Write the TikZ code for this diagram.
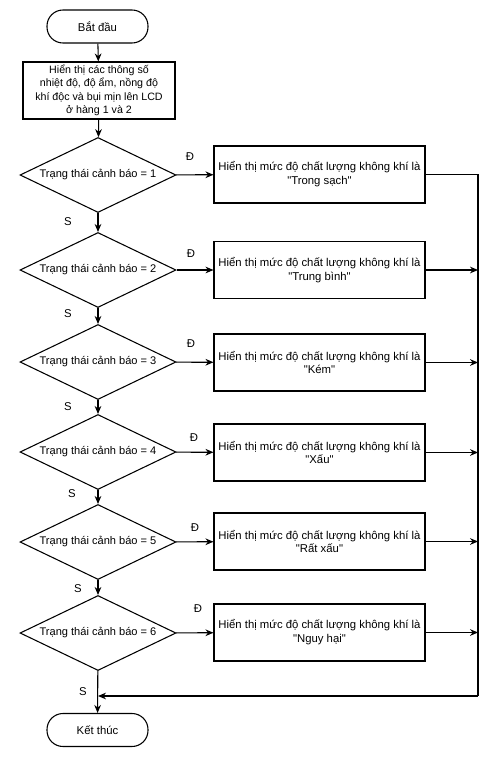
\documentclass[tikz,border=0pt]{standalone}
\usepackage{fontspec}
\setmainfont{Liberation Sans}
\usetikzlibrary{shapes.geometric,arrows.meta}

\newcommand{\qt}[1]{\textquotedbl#1\textquotedbl}

\tikzset{
  term/.style={draw,thick,rounded corners=12pt,minimum width=101*0.75pt,minimum height=33*0.75pt},
  proc/.style={draw,thick,align=center,inner sep=0pt},
  dec/.style={draw,thick,diamond,aspect=2.08,inner sep=0pt,minimum width=156*0.75pt,minimum height=75*0.75pt,
    font=\fontsize{8.3}{10}\selectfont},
  arr/.style={thick,-{Stealth[length=6pt,width=5pt]}},
  lbl/.style={inner sep=0pt}
}

\begin{document}
\begin{tikzpicture}[x=0.75pt,y=-0.75pt,font=\fontsize{8.5}{10.4}\selectfont,line width=0.75pt]
\useasboundingbox (0,0) rectangle (490,764);

% Start and display
\node[term] (start) at (97.5,26.5) {Bắt đầu};
\node[proc,minimum width=152*0.75pt,minimum height=57*0.75pt,font=\fontsize{8}{10.1}\selectfont] (disp) at (99,90.5)
  {Hiển thị các thông số\\nhiệt độ, độ ẩm, nồng độ\\khí độc và bụi mịn lên LCD\\ở hàng 1 và 2};

% Decisions
\node[dec] (dec1) at (98,175) {Trạng thái cảnh báo = 1};
\node[dec] (dec2) at (98,270) {Trạng thái cảnh báo = 2};
\node[dec] (dec3) at (98,362) {Trạng thái cảnh báo = 3};
\node[dec] (dec4) at (98,452) {Trạng thái cảnh báo = 4};
\node[dec] (dec5) at (98,542) {Trạng thái cảnh báo = 5};
\node[dec] (dec6) at (98,633) {Trạng thái cảnh báo = 6};

% Messages
\tikzset{msg/.style={proc,minimum width=211*0.75pt,minimum height=57*0.75pt}}
\node[msg] (msg1) at (319.5,174.5) {Hiển thị mức độ chất lượng không khí là\\\qt{Trong sạch}};
\node[msg] (msg2) at (319.5,270) {Hiển thị mức độ chất lượng không khí là\\\qt{Trung bình}};
\node[msg] (msg3) at (319.5,362.5) {Hiển thị mức độ chất lượng không khí là\\\qt{Kém}};
\node[msg] (msg4) at (319.5,452.5) {Hiển thị mức độ chất lượng không khí là\\\qt{Xấu}};
\node[msg] (msg5) at (319.5,541.5) {Hiển thị mức độ chất lượng không khí là\\\qt{Rất xấu}};
\node[msg] (msg6) at (319.5,632.5) {Hiển thị mức độ chất lượng không khí là\\\qt{Nguy hại}};

% End
\node[term] (stop) at (97.5,730) {Kết thúc};

% Main flow
\draw[arr] (start) -- (disp);
\draw[arr] (disp) -- (dec1);
\draw[arr] (dec1) -- (dec2);
\draw[arr] (dec2) -- (dec3);
\draw[arr] (dec3) -- (dec4);
\draw[arr] (dec4) -- (dec5);
\draw[arr] (dec5) -- (dec6);
\draw[arr] (dec6) -- (stop);

% Yes branches
\draw[arr] (dec1) -- (msg1);
\draw[arr] (dec2) -- (msg2);
\draw[arr] (dec3) -- (msg3);
\draw[arr] (dec4) -- (msg4);
\draw[arr] (dec5) -- (msg5);
\draw[arr] (dec6) -- (msg6);

% Return line
\coordinate (rtop) at (478,174.5);
\coordinate (rbot) at (478,696);
\coordinate (join) at (98,696);
\draw[thick] (msg1) -- (rtop) -- (rbot);
\draw[arr] (rbot) -- (join);
\draw[arr] (msg2) -- (msg2 -| rtop);
\draw[arr] (msg3) -- (msg3 -| rtop);
\draw[arr] (msg4) -- (msg4 -| rtop);
\draw[arr] (msg5) -- (msg5 -| rtop);
\draw[arr] (msg6) -- (msg6 -| rtop);

% Labels
\node[lbl] (y1) at (190,157) {Đ};
\node[lbl] (y2) at (191,254) {Đ};
\node[lbl] (y3) at (191,344) {Đ};
\node[lbl] (y4) at (194,438) {Đ};
\node[lbl] (y5) at (195,528) {Đ};
\node[lbl] (y6) at (198,609) {Đ};
\node[lbl] (n1) at (68,222) {S};
\node[lbl] (n2) at (68,314) {S};
\node[lbl] (n3) at (68,407) {S};
\node[lbl] (n4) at (72,494) {S};
\node[lbl] (n5) at (78,589) {S};
\node[lbl] (n6) at (83,692) {S};
\end{tikzpicture}
\end{document}
